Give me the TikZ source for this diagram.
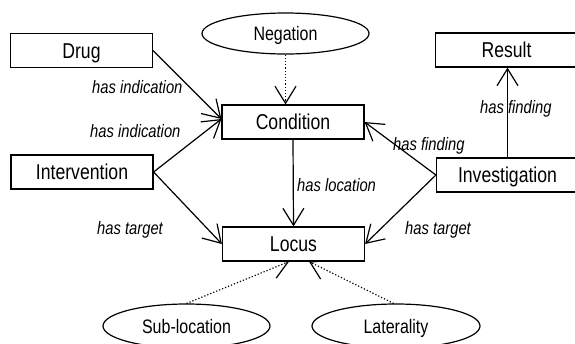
\documentclass[tikz,border=0pt]{standalone}
\usepackage{fontspec}
\setmainfont{Liberation Sans}[FakeStretch=0.82]
\usetikzlibrary{arrows.meta,shapes.geometric}
\pgfdeclarelayer{background}
\pgfsetlayers{background,main}
\tikzset{
  box/.style={draw, fill=white, line width=1.2pt, minimum width=142pt, minimum height=34pt,
    inner sep=0pt, text height=15.5pt, text depth=0pt, font=\fontsize{21.5}{24}\selectfont},
  oval/.style={ellipse, draw, fill=white, line width=1.2pt, inner sep=0pt,
    text height=14pt, text depth=0pt, font=\fontsize{19.5}{22}\selectfont},
  lbl/.style={anchor=base west, inner sep=0pt, font=\itshape\fontsize{18}{20}\selectfont},
  arr/.style={line width=1.2pt, -{Straight Barb[length=17pt,width=21pt,line width=1.2pt]}},
  dotarr/.style={arr, dotted},
}
\begin{document}
\begin{tikzpicture}[x=1pt,y=-1pt]
\useasboundingbox (0,0) rectangle (575,343);
% boxes
\node[box] (drug) at (81.5,50.5) {Drug};
\node[box] (cond) at (293,122) {Condition};
\node[box] (interv) at (82,172) {Intervention};
\node[box] (locus) at (293.5,244) {Locus};
\node[box] (result) at (506.5,50) {Result};
\node[box] (invest) at (507.5,175) {Investigation};
% ellipses
\node[oval, minimum width=167pt, minimum height=41pt] (neg) at (285.5,33.5) {Negation};
\node[oval, minimum width=167pt, minimum height=44pt] (sub) at (186.5,326) {Sub-location};
\node[oval, minimum width=168pt, minimum height=44pt] (lat) at (396,326) {Laterality};
% connectors
\begin{pgfonlayer}{background}
\draw[arr] (drug.east) -- ([yshift=3pt]cond.west);
\draw[arr] (interv.east) -- ([yshift=3pt]cond.west);
\draw[arr] (interv.east) -- (locus.west);
\draw[arr] (invest.west) -- (cond.east);
\draw[arr] (invest.west) -- (locus.east);
\draw[arr] (invest.north) -- (invest.north |- result.south);
\draw[arr] (cond.south) -- (locus.north);
\draw[dotarr] (neg.south) -- (neg.south |- cond.north);
\draw[dotarr] (sub.north) -- ([xshift=-4.5pt]locus.south);
\draw[dotarr] (lat.96) -- ([xshift=15.5pt]locus.south);
\end{pgfonlayer}
% labels
\node[lbl] (l1) at (92,93.5) {has indication};
\node[lbl] (l2) at (90,137.5) {has indication};
\node[lbl] (l3) at (97,234) {has target};
\node[lbl] (l4) at (297,191.5) {has location};
\node[lbl] (l5) at (393,150) {has finding};
\node[lbl] (l6) at (480,113.5) {has finding};
\node[lbl] (l7) at (405,234.5) {has target};
\end{tikzpicture}
\end{document}
